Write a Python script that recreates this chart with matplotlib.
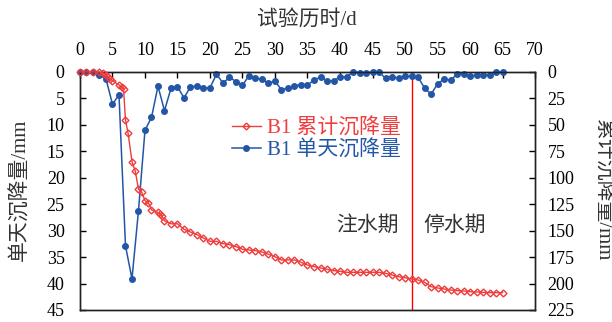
import matplotlib
matplotlib.use("Agg")
import matplotlib.pyplot as plt
from matplotlib.lines import Line2D

plt.rcParams['font.family'] = ['Liberation Serif', 'Noto Sans CJK SC']

# daily settlement (mm), one reading per day
daily_days = list(range(0, 66))
daily_vals = [0, 0, 0, 0.6, 1.3, 6.1, 4.3, 32.9, 39.1, 26.2,
              11.0, 8.6, 2.7, 7.3, 3.1, 2.8, 4.9, 2.8, 2.7, 3.0,
              3.0, 0.4, 2.1, 1.0, 1.8, 2.5, 0.7, 1.2, 1.4, 2.1,
              1.7, 3.4, 3.0, 2.6, 2.4, 2.4, 1.6, 0.9, 1.7, 1.7,
              0.9, 0.9, 0.0, 0.1, 0.2, 0.0, 0.0, 1.2, 0.9, 1.2,
              0.8, 0.8, 1.0, 3.0, 4.2, 2.3, 1.3, 1.6, 0.4, 0.4,
              0.7, 0.6, 0.6, 0.5, 0.0, 0.0]

# cumulative settlement (mm), extra readings during the first days
cum_days = [0, 1, 2, 3, 3.5, 4, 4.3, 4.6, 5, 6, 6.4, 6.7, 7, 7.4, 8, 8.5,
            9, 9.5, 10, 10.5, 11, 12, 12.3, 12.6] + list(range(13, 66))
cum_vals = [0, 0, 0, 0, 1.0, 2.5, 4.5, 6.5, 8.2, 12.3, 14.2, 16.0, 45.4,
            58.0, 84.8, 93.6, 110.8, 113.6, 121.6, 123.5, 130.3, 132.8,
            134.3, 136.1,
            140.7, 143.5, 143.5, 148.7, 151.3, 153.8, 157.0, 160.1, 160.1,
            162.3, 163.3, 165.1, 167.6, 168.3, 168.9, 170.2, 172.3, 174.6,
            177.7, 177.7, 177.7, 179.9, 182.5, 184.0, 185.3, 186.5, 187.8,
            188.4, 189.4, 189.4, 189.4, 189.4, 189.4, 189.4, 190.3, 191.9,
            193.5, 194.5, 195.7, 196.6, 198.8, 202.9, 204.2, 205.1, 206.1,
            206.7, 207.0, 207.7, 208.0, 208.3, 208.6, 208.6, 208.6]

stop_day = 51
blue = '#2356a6'
red = '#f03c3c'

fig = plt.figure(figsize=(6.12, 3.22), dpi=100)
ax = fig.add_axes([0.1307, 0.0373, 0.7435, 0.7391])
ax2 = ax.twinx()

ax.plot(daily_days, daily_vals, color=blue, lw=1.1, marker='o', ms=4,
        clip_on=False, zorder=4)
ax2.plot(cum_days, cum_vals, color=red, lw=1.0, marker='D', ms=3.5,
         mfc='none', mew=1.0, clip_on=False, zorder=3)
ax.axvline(stop_day, color='red', lw=1.0)

ax.set_xlim(0, 70)
ax.set_ylim(45, 0)
ax2.set_ylim(225, 0)
ax.set_xticks(range(0, 71, 5))
ax.set_yticks(range(0, 46, 5))
ax2.set_yticks(range(0, 226, 25))

ax.xaxis.tick_top()
ax.tick_params(axis='x', direction='in', length=4, width=1, pad=9, labelsize=13,
               bottom=False, top=True)
ax.tick_params(axis='y', direction='in', length=4, width=1, pad=11, labelsize=13)
ax2.tick_params(axis='y', direction='in', length=4, width=1, pad=9, labelsize=13)
for a in (ax, ax2):
    for s in a.spines.values():
        s.set_linewidth(1.0)
        s.set_color('#222222')

fig.text(0.502, 0.94, '试验历时/d', ha='center', va='center', fontsize=15,
         color='#333333')
fig.text(0.033, 0.41, '单天沉降量/mm', ha='center', va='center', fontsize=15,
         rotation=90, color='#333333')
fig.text(0.985, 0.41, '累计沉降量/mm', ha='center', va='center', fontsize=15,
         rotation=270, color='#333333')

ax.text(44.2, 29.2, '注水期', ha='center', va='center', fontsize=15, color='#333333')
ax.text(57.7, 29.2, '停水期', ha='center', va='center', fontsize=15, color='#333333')

handles = [Line2D([], [], color=red, lw=1.0, marker='D', ms=3.5, mfc='none', mew=1.0),
           Line2D([], [], color=blue, lw=1.1, marker='o', ms=4)]
leg = ax.legend(handles, ['B1 累计沉降量', 'B1 单天沉降量'], frameon=False,
                fontsize=15, handlelength=1.4, handletextpad=0.3, labelspacing=0.08,
                loc='upper left', bbox_to_anchor=(0.292, 0.885))
for t, c in zip(leg.get_texts(), (red, blue)):
    t.set_color(c)

fig.savefig('out.png', dpi=100)
